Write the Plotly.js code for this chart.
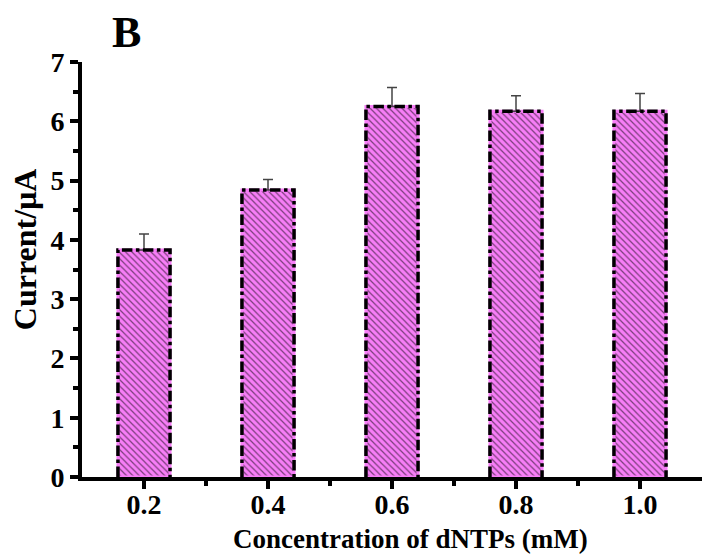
<!DOCTYPE html>
<html>
<head>
<meta charset="utf-8">
<script src="https://cdn.plot.ly/plotly-3.0.1.min.js"></script>
<style>html,body{margin:0;padding:0;background:#fff;}#chart{width:703px;height:557px;}</style>
</head>
<body>
<div id="chart"></div>
<script>
// Data
var concentrations = [0.2, 0.4, 0.6, 0.8, 1.0];
var tickLabels = ["0.2", "0.4", "0.6", "0.8", "1.0"];
var currents = [3.83, 4.84, 6.25, 6.17, 6.17];
var errors = [0.27, 0.18, 0.32, 0.26, 0.30];
var yTickValues = [0, 1, 2, 3, 4, 5, 6, 7];
var yTickLabels = ["0", "1", "2", "3", "4", "5", "6", "7"];

var barWidth = 0.084;
var pink = "#f77ef7";
var font = "Liberation Serif";

// outline path built from the data
var ox = [], oy = [];
for (var i = 0; i < concentrations.length; i++) {
  var l = concentrations[i] - barWidth / 2, r = concentrations[i] + barWidth / 2;
  ox.push(l, l, r, r, null);
  oy.push(0, currents[i], currents[i], 0, null);
}

var bars = {
  type: "bar",
  x: concentrations,
  y: currents,
  width: barWidth,
  marker: {
    color: pink,
    line: {color: pink, width: 3},
    pattern: {shape: "\\", fgcolor: "#000", bgcolor: pink, size: 4.5, solidity: 0.28, fillmode: "overlay"}
  },
  error_y: {type: "data", symmetric: false, array: errors, arrayminus: [0,0,0,0,0], color: "#444", thickness: 1.5, width: 5},
  hoverinfo: "none"
};

var outline = {
  type: "scatter",
  mode: "lines",
  x: ox,
  y: oy,
  line: {color: "#000", width: 3.5, dash: "dashdot"},
  hoverinfo: "none",
  cliponaxis: false
};

var layout = {
  width: 703,
  height: 557,
  margin: {l: 82, r: 1, t: 62, b: 80},
  paper_bgcolor: "#fff",
  plot_bgcolor: "#fff",
  showlegend: false,
  font: {family: font, color: "#000"},
  xaxis: {
    range: [0.1, 1.1],
    tickmode: "array",
    tickvals: concentrations,
    ticktext: tickLabels.map(function (t) { return "<b>" + t + "</b>"; }),
    showline: true, linewidth: 4, linecolor: "#000",
    ticks: "outside", ticklen: 8, tickwidth: 4, tickcolor: "#000",
    minor: {tickvals: [0.3, 0.5, 0.7, 0.9], ticks: "outside", ticklen: 5, tickwidth: 4, tickcolor: "#000"},
    showgrid: false, zeroline: false,
    ticklabelstandoff: -9,
    tickfont: {family: font, size: 28, color: "#000"}
  },
  yaxis: {
    range: [0, 7],
    tickmode: "array",
    tickvals: yTickValues,
    ticktext: yTickLabels.map(function (t) { return "<b>" + t + "</b>"; }),
    showline: true, linewidth: 4, linecolor: "#000",
    ticks: "outside", ticklen: 8, tickwidth: 4, tickcolor: "#000",
    minor: {dtick: 0.5, ticks: "outside", ticklen: 5, tickwidth: 4, tickcolor: "#000"},
    showgrid: false, zeroline: false,
    tickfont: {family: font, size: 28, color: "#000"}
  },
  annotations: [
    {text: "<b>B</b>", xref: "paper", yref: "paper", x: 0.045, y: 1.007, xanchor: "left", yanchor: "bottom",
     showarrow: false, font: {family: font, size: 44, color: "#000"}},
    {text: "<b>Current/μA</b>", xref: "paper", yref: "paper", x: -0.092, y: 0.549, xanchor: "center", yanchor: "middle",
     textangle: -90, showarrow: false, font: {family: font, size: 32, color: "#000"}},
    {text: "<b>Concentration of dNTPs (mM)</b>", xref: "paper", yref: "paper", x: 0.53, y: -0.15, xanchor: "center", yanchor: "middle",
     showarrow: false, font: {family: font, size: 27, color: "#000"}}
  ]
};

Plotly.newPlot("chart", [bars, outline], layout, {displayModeBar: false, staticPlot: true});
</script>
</body>
</html>
